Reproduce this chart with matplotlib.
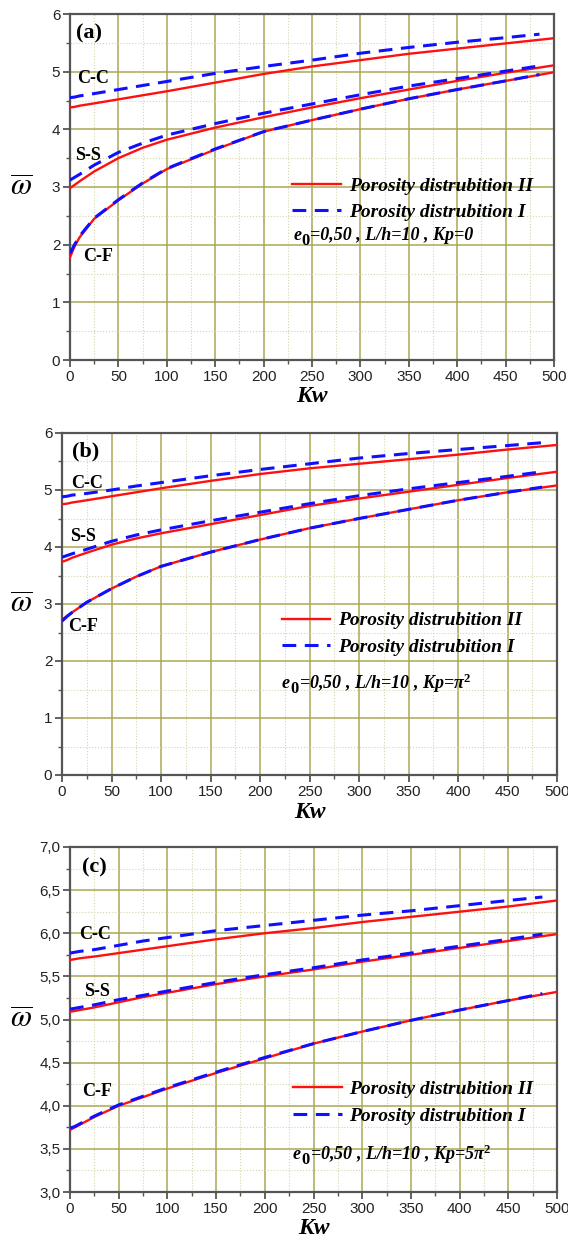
import numpy as np
import matplotlib
matplotlib.use('Agg')
import matplotlib.pyplot as plt
from matplotlib.ticker import MultipleLocator

plt.rcParams['mathtext.fontset'] = 'custom'
plt.rcParams['mathtext.it'] = 'Liberation Serif:italic:bold'
plt.rcParams['mathtext.rm'] = 'Liberation Serif:bold'
plt.rcParams['mathtext.bf'] = 'Liberation Serif:bold'

# ---- data ----
kw_red = [0, 5, 10, 25, 50, 75, 100, 150, 200, 250, 300, 350, 400, 450, 500]
kw_blue = [0, 5, 10, 25, 50, 75, 100, 150, 200, 250, 300, 350, 400, 450, 485]

# (a) Kp = 0
a_cc_II = [4.38, 4.39, 4.41, 4.45, 4.52, 4.59, 4.66, 4.81, 4.96, 5.09, 5.20, 5.31, 5.40, 5.49, 5.58]
a_cc_I = [4.55, 4.56, 4.58, 4.62, 4.69, 4.76, 4.83, 4.97, 5.09, 5.20, 5.32, 5.42, 5.51, 5.59, 5.65]
a_ss_II = [2.98, 3.04, 3.10, 3.27, 3.50, 3.68, 3.82, 4.03, 4.21, 4.38, 4.54, 4.69, 4.84, 4.98, 5.11]
a_ss_I = [3.12, 3.17, 3.22, 3.38, 3.60, 3.76, 3.90, 4.10, 4.28, 4.44, 4.60, 4.75, 4.88, 5.01, 5.10]
a_cf_II = [1.78, 1.98, 2.13, 2.45, 2.77, 3.06, 3.31, 3.65, 3.96, 4.16, 4.35, 4.53, 4.69, 4.84, 4.99]
a_cf_I = [1.85, 2.01, 2.15, 2.46, 2.78, 3.07, 3.32, 3.66, 3.96, 4.16, 4.35, 4.53, 4.69, 4.84, 4.95]

# (b) Kp = pi^2
b_cc_II = [4.75, 4.76, 4.78, 4.82, 4.89, 4.96, 5.03, 5.16, 5.28, 5.38, 5.46, 5.54, 5.62, 5.71, 5.79]
b_cc_I = [4.88, 4.89, 4.91, 4.94, 5.00, 5.07, 5.13, 5.25, 5.36, 5.46, 5.56, 5.64, 5.71, 5.78, 5.83]
b_ss_II = [3.74, 3.77, 3.81, 3.90, 4.04, 4.15, 4.24, 4.40, 4.56, 4.72, 4.85, 4.97, 5.09, 5.21, 5.32]
b_ss_I = [3.82, 3.85, 3.88, 3.96, 4.10, 4.21, 4.30, 4.46, 4.61, 4.76, 4.90, 5.02, 5.13, 5.24, 5.32]
b_cf_II = [2.72, 2.79, 2.85, 3.03, 3.27, 3.48, 3.66, 3.91, 4.13, 4.33, 4.50, 4.66, 4.82, 4.96, 5.08]
b_cf_I = [2.70, 2.78, 2.85, 3.03, 3.27, 3.48, 3.66, 3.91, 4.13, 4.33, 4.50, 4.66, 4.82, 4.96, 5.05]

# (c) Kp = 5 pi^2
c_cc_II = [5.69, 5.70, 5.71, 5.73, 5.77, 5.81, 5.85, 5.93, 6.00, 6.06, 6.13, 6.19, 6.25, 6.31, 6.38]
c_cc_I = [5.77, 5.78, 5.79, 5.81, 5.86, 5.91, 5.95, 6.03, 6.09, 6.15, 6.21, 6.26, 6.32, 6.38, 6.42]
c_ss_II = [5.09, 5.10, 5.11, 5.14, 5.20, 5.26, 5.31, 5.41, 5.50, 5.58, 5.67, 5.75, 5.83, 5.91, 5.99]
c_ss_I = [5.12, 5.13, 5.14, 5.17, 5.23, 5.28, 5.33, 5.43, 5.52, 5.60, 5.69, 5.77, 5.85, 5.93, 5.99]
c_cf_II = [3.72, 3.75, 3.78, 3.87, 4.00, 4.10, 4.20, 4.38, 4.55, 4.72, 4.86, 4.99, 5.11, 5.22, 5.32]
c_cf_I = [3.74, 3.76, 3.79, 3.88, 4.01, 4.11, 4.21, 4.39, 4.56, 4.72, 4.86, 4.99, 5.11, 5.22, 5.30]

xticks = [0, 50, 100, 150, 200, 250, 300, 350, 400, 450, 500]
yticks_ab = [0, 1, 2, 3, 4, 5, 6]
yticks_c = [3.0, 3.5, 4.0, 4.5, 5.0, 5.5, 6.0, 6.5, 7.0]
ylabels_c = ['3,0', '3,5', '4,0', '4,5', '5,0', '5,5', '6,0', '6,5', '7,0']

panels = [
    ('(a)', [a_cc_II, a_ss_II, a_cf_II], [a_cc_I, a_ss_I, a_cf_I], '=0,50 , L/h=10 , Kp=0'),
    ('(b)', [b_cc_II, b_ss_II, b_cf_II], [b_cc_I, b_ss_I, b_cf_I], r'=0,50 , L/h=10 , Kp=$\pi^{2}$'),
    ('(c)', [c_cc_II, c_ss_II, c_cf_II], [c_cc_I, c_ss_I, c_cf_I], r'=0,50 , L/h=10 , Kp=5$\pi^{2}$'),
]

# layout (figure fractions) and text positions
W, H = 568, 1245
boxes = [(70, 554, 14, 360), (62, 557, 433, 775), (70, 557, 847, 1192)]
ylims = [(0, 6), (0, 6), (3, 7)]
bc_labels = [[(24, 4.88), (19, 3.54), (29, 1.80)],
             [(25, 5.12), (21, 4.18), (21, 2.60)],
             [(26, 5.99), (28, 5.32), (28, 4.16)]]
tag_pos = [(20, 5.66), (24, 5.67), (25, 6.76)]
leg_pos = [(0.459, 0.465), (0.444, 0.413), (0.458, 0.259)]
note_pos = [(0.461, 0.361), (0.444, 0.269), (0.458, 0.110)]

serif = 'Liberation Serif'
grid_major = '#aaa855'
grid_minor = '#d6d6a8'
note_font = dict(fontfamily=serif, fontweight='bold', fontstyle='italic', fontsize=13)

fig = plt.figure(figsize=(W / 100, H / 100), dpi=100)

for i, (tag, reds, blues, note) in enumerate(panels):
    l, r, t, b = boxes[i]
    ax = fig.add_axes([l / W, 1 - b / H, (r - l) / W, (b - t) / H])

    for j in range(3):
        ax.plot(kw_red, reds[j], color='#ff1010', lw=1.7,
                label='Porosity distrubition II' if j == 0 else None, zorder=3)
        ax.plot(kw_blue, blues[j], color='#1010ff', lw=2.2, dashes=(4.5, 2.8),
                label='Porosity distrubition I' if j == 0 else None, zorder=4)

    ax.set_xlim(0, 500)
    ax.set_ylim(*ylims[i])
    ax.set_xticks(xticks)
    ax.xaxis.set_minor_locator(MultipleLocator(25))
    if i < 2:
        ax.set_yticks(yticks_ab)
        ax.yaxis.set_minor_locator(MultipleLocator(0.5))
    else:
        ax.set_yticks(yticks_c)
        ax.set_yticklabels(ylabels_c)
        ax.yaxis.set_minor_locator(MultipleLocator(0.25))

    ax.grid(True, which='major', color=grid_major, lw=1.1, zorder=0)
    ax.grid(True, which='minor', color=grid_minor, lw=0.8, ls=':', zorder=0)
    ax.set_axisbelow(True)

    for s in ax.spines.values():
        s.set_color('#555555')
        s.set_linewidth(1.6)
    ax.tick_params(which='both', direction='out', color='#555555', top=False, right=False)
    ax.tick_params(which='major', length=5, width=1.3, labelsize=11, pad=2, labelcolor='#222222')
    ax.tick_params(which='minor', length=3, width=1.0)
    for lab in ax.get_xticklabels() + ax.get_yticklabels():
        lab.set_fontfamily('Liberation Sans')

    ax.set_xlabel('Kw', fontfamily=serif, fontweight='bold', fontstyle='italic',
                  fontsize=17, labelpad=2)
    ax.set_ylabel(r'$\overline{\omega}$', rotation=0, fontsize=22, math_fontfamily='stix',
                  ha='center', va='center')
    ax.yaxis.set_label_coords(-(l - 21) / (r - l), 0.5)

    ax.text(tag_pos[i][0], tag_pos[i][1], tag, fontfamily=serif, fontweight='bold',
            fontsize=16, ha='center', va='center')
    for (x, y), name in zip(bc_labels[i], ['C-C', 'S-S', 'C-F']):
        ax.text(x, y, name, fontfamily=serif, fontweight='bold', fontsize=13,
                ha='center', va='center', zorder=5)

    handles, labels = ax.get_legend_handles_labels()
    ax.legend(handles, labels, loc='center left', bbox_to_anchor=leg_pos[i], frameon=False,
              borderpad=0, borderaxespad=0, handlelength=2.5, handletextpad=0.4,
              labelspacing=0.45,
              prop={'family': serif, 'weight': 'bold', 'style': 'italic', 'size': 14})

    # e with a large lowered 0, then the rest of the note
    nx, ny = note_pos[i]
    ax.annotate('e', (nx, ny), xycoords='axes fraction', ha='left', va='center', **note_font)
    ax.annotate('0', (nx, ny), xycoords='axes fraction', xytext=(6.2, -4),
                textcoords='offset points', ha='left', va='center',
                fontfamily=serif, fontweight='bold', fontsize=12)
    ax.annotate(note, (nx, ny), xycoords='axes fraction', xytext=(12.5, 0),
                textcoords='offset points', ha='left', va='center', **note_font)

fig.savefig('out.png', dpi=100)
